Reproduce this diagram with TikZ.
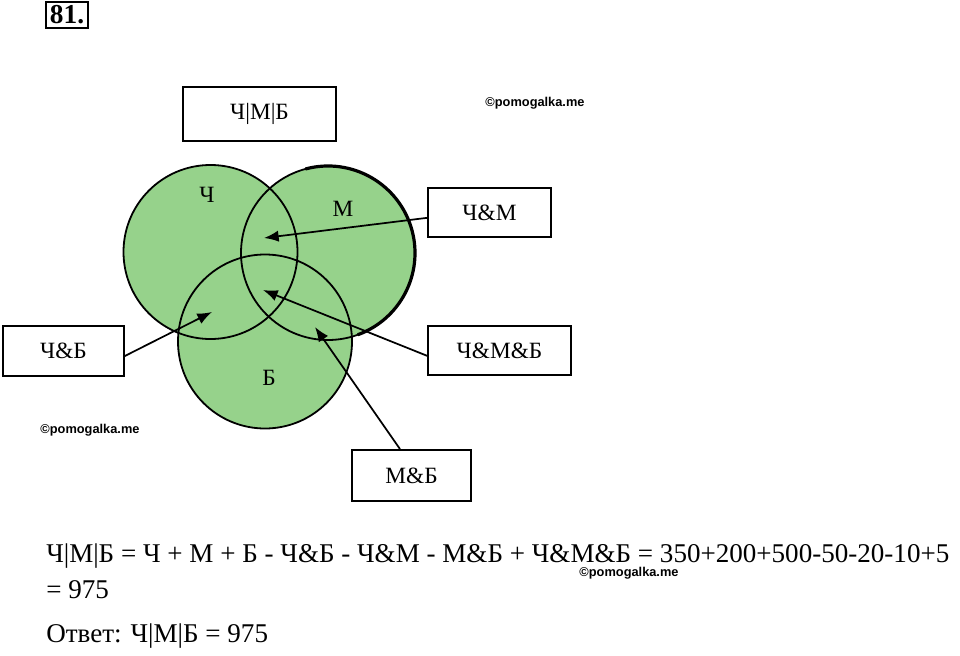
\documentclass[tikz,border=0pt]{standalone}
\usepackage{fontspec}
\setmainfont{Liberation Serif}
\newfontfamily\wmfont{Liberation Sans}
\usetikzlibrary{arrows.meta}
\definecolor{venngreen}{RGB}{150,210,139}
\tikzset{
  labbox/.style={draw=black, line width=1.3pt, fill=white, inner sep=0pt, font=\fontsize{17.5}{20}\selectfont},
  setlab/.style={inner sep=0pt, font=\fontsize{17.5}{20}\selectfont},
  ptr/.style={line width=1.3pt, -{Latex[length=11pt,width=8.5pt]}},
  venn/.style={draw=black, line width=1.35pt},
  wmark/.style={inner sep=0pt, font=\wmfont\bfseries\fontsize{9.6}{11}\selectfont},
  formula/.style={inner sep=0pt, anchor=base west, font=\fontsize{20.3}{24}\selectfont}
}
\begin{document}
\begin{tikzpicture}[x=0.75pt,y=-0.75pt]
\useasboundingbox (0,0) rectangle (960,656);
% task number
\node[draw=black, line width=1.6pt, minimum width=31.5pt, minimum height=19.5pt, inner sep=0pt, font=\bfseries\fontsize{20.5}{22}\selectfont] (num) at (67,15) {81.};
% circle fills
\fill[venngreen] (210.5,252) circle[radius=87];
\fill[venngreen] (328,253) circle[radius=87];
\fill[venngreen] (265,341.5) circle[radius=87];
% circle outlines
\draw[venn] (210.5,252) circle[radius=87];
\draw[venn] (328,253) circle[radius=87];
\draw[venn] (265,341.5) circle[radius=87];
\draw[line width=2.4pt] ([shift={(-105:87)}]328,253) arc[start angle=-105, end angle=70, radius=87];
% set labels
\node[setlab] (lch) at (207,195) {Ч};
\node[setlab] (lm) at (343,209) {М};
\node[setlab] (lb) at (269,378) {Б};
% boxes
\node[labbox, minimum width=114.75pt, minimum height=40.5pt] (union) at (259.5,114) {Ч|М|Б};
\node[labbox, minimum width=92.25pt, minimum height=36.75pt] (chm) at (489.5,212.5) {Ч\&М};
\node[labbox, minimum width=90.75pt, minimum height=37.5pt] (chb) at (63.5,351) {Ч\&Б};
\node[labbox, minimum width=107.25pt, minimum height=36.75pt] (chmb) at (499.5,350.5) {Ч\&М\&Б};
\node[labbox, minimum width=89.25pt, minimum height=38.25pt] (mb) at (411.5,475.5) {М\&Б};
% arrow tips
\coordinate (tchm) at (264,238);
\coordinate (tchb) at (212,312);
\coordinate (tchmb) at (263,290);
\coordinate (tmb) at (315,327);
\draw[ptr] ([yshift=-4pt]chm.west) -- (tchm);
\draw[ptr] ([yshift=-3.75pt]chb.east) -- (tchb);
\draw[ptr] ([yshift=-4pt]chmb.west) -- (tchmb);
\draw[ptr] ([xshift=-8.6pt]mb.north) -- (tmb);
% watermarks
\node[wmark] (w1) at (535,103) {©pomogalka.me};
\node[wmark] (w2) at (90,430) {©pomogalka.me};
% formula
\node[formula] (f1) at (46,562) {Ч|М|Б = Ч + М + Б - Ч\&Б - Ч\&М - М\&Б + Ч\&М\&Б = 350+200+500-50-20-10+5};
\node[formula] (f2) at (46,598) {= 975};
\node[formula] (f3) at (46,642) {Ответ: Ч|М|Б = 975};
\node[wmark] (w3) at (629,573) {©pomogalka.me};
\end{tikzpicture}
\end{document}
